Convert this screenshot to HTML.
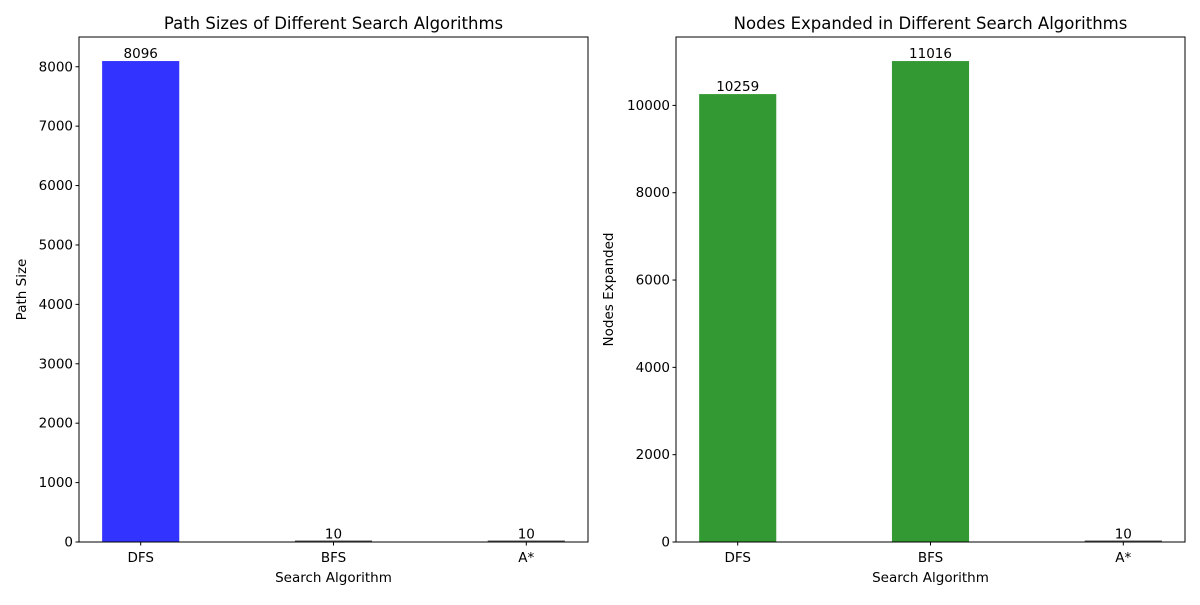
<!DOCTYPE html>
<html><head><meta charset="utf-8"><style>
body{margin:0;background:#fff;font-family:"Liberation Sans","DejaVu Sans",sans-serif}
svg text{font-family:"DejaVu Sans","Liberation Sans",sans-serif}
</style></head><body>
<svg id="c" width="1200" height="600" xmlns="http://www.w3.org/2000/svg"></svg>
<script>
const categories = ["DFS","BFS","A*"];
const pathSizes = [8096, 10, 10];
const nodesExpanded = [10259, 11016, 10];
const leftTicks = [0,1000,2000,3000,4000,5000,6000,7000,8000];
const rightTicks = [0,2000,4000,6000,8000,10000];

const svg = document.getElementById('c');
const NS = 'http://www.w3.org/2000/svg';
function mk(tag, attrs, parent){
  const e = document.createElementNS(NS, tag);
  for (const k in attrs) e.setAttribute(k, attrs[k]);
  (parent||svg).appendChild(e); return e;
}
function panel(x0, x1, y0, y1, values, ticks, color, title, ylabel, prefix){
  const g = mk('g', {});
  
  
  const ymax = Math.max(...values) * 1.05;
  const ys = v => y1 - v / ymax * (y1 - y0);
  const xmin = -0.32, xmax = categories.length - 1 + 0.32;
  const xs = i => x0 + (i - xmin) / (xmax - xmin) * (x1 - x0);
  const ux = (x1 - x0) / (xmax - xmin);
  values.forEach((v, i) => {
    const h = y1 - ys(v);
    const r = mk('rect', {x: xs(i) - 0.2*ux, y: h < 1.5 ? y1 - 1.5 : ys(v), width: 0.4*ux, height: Math.max(h, 1.5), fill: h < 1.5 ? '#555' : color}, g);
    
    
    const t = mk('text', {x: xs(i), y: ys(v) - 3, 'text-anchor': 'middle', 'font-size': 13.5}, g);
    t.textContent = v;
    
    
  });
  const fr = mk('rect', {x: x0, y: y0, width: x1 - x0, height: y1 - y0, fill: 'none', stroke: '#000', 'stroke-width': 1}, g);
  
  
  ticks.forEach(v => {
    mk('line', {x1: x0 - 3.5, x2: x0, y1: ys(v), y2: ys(v), stroke: '#000'}, g);
    const t = mk('text', {x: x0 - 6, y: ys(v) + 4.5, 'text-anchor': 'end', 'font-size': 13.5}, g);
    t.textContent = v;
    
    
  });
  categories.forEach((c, i) => {
    mk('line', {x1: xs(i), x2: xs(i), y1: y1, y2: y1 + 3.5, stroke: '#000'}, g);
    const t = mk('text', {x: xs(i), y: y1 + 20, 'text-anchor': 'middle', 'font-size': 13.5}, g);
    t.textContent = c;
    
    
  });
  const tt = mk('text', {x: (x0 + x1)/2, y: y0 - 8, 'text-anchor': 'middle', 'font-size': 16.5}, g);
  tt.textContent = title;
  
  
  const xl = mk('text', {x: (x0 + x1)/2, y: y1 + 40, 'text-anchor': 'middle', 'font-size': 13.5}, g);
  xl.textContent = 'Search Algorithm';
  
  
  const cy = (y0 + y1)/2, lx = prefix === 'left' ? 26 : 613;
  const yl = mk('text', {x: lx, y: cy, 'text-anchor': 'middle', 'font-size': 13.5, transform: `rotate(-90 ${lx} ${cy})`}, g);
  yl.textContent = ylabel;
  
  
}
panel(79, 588, 37, 542, pathSizes, leftTicks, '#3333ff', 'Path Sizes of Different Search Algorithms', 'Path Size', 'left');
panel(676, 1185, 37, 542, nodesExpanded, rightTicks, '#339933', 'Nodes Expanded in Different Search Algorithms', 'Nodes Expanded', 'right');
</script>
</body></html>
